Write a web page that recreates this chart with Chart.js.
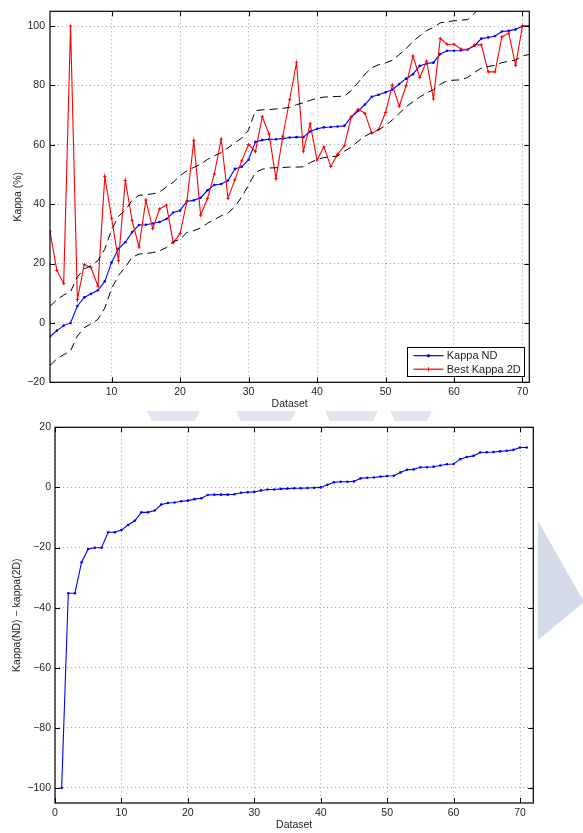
<!DOCTYPE html>
<html>
<head>
<meta charset="utf-8">
<script src="https://cdn.jsdelivr.net/npm/chart.js@4.4.0/dist/chart.umd.min.js"></script>
<style>
  html, body { margin: 0; padding: 0; background: #fff; }
  #page { position: relative; width: 583px; height: 833px; overflow: hidden; background: #fff; }
  #c1 { position: absolute; left: 0; top: 0; }
  #c2 { position: absolute; left: 0; top: 415px; }
  #ornament { position: absolute; left: 0; top: 0; pointer-events: none; }
</style>
</head>
<body>
<div id="page">
  <canvas id="c1" width="583" height="415"></canvas>
  <canvas id="c2" width="583" height="418"></canvas>
  <svg id="ornament" width="583" height="833" viewBox="0 0 583 833">
    <g fill="#e2e5ef">
      <polygon points="147,411 200,411 195,421 152,421"/>
      <polygon points="236,411 296,411 291,421 241,421"/>
      <polygon points="325,411 378,411 373,421 330,421"/>
      <polygon points="390,411 432,411 427,421 395,421"/>
    </g>
    <polygon fill="#d5dae8" points="538,521 583,600 583,603 538,640"/>
  </svg>
</div>
<script>
// Kappa per dataset (%), datasets ordered by Kappa ND
const kappaND = [
  -4.6, -2.6, -0.9, 0.0, 5.7, 8.6, 9.8, 11.0, 14.0, 20.4,
  25.0, 27.2, 30.6, 33.0, 33.1, 33.5, 34.0, 35.0, 37.2, 37.9,
  41.0, 41.3, 42.2, 44.7, 46.5, 46.8, 48.0, 51.9, 52.6, 55.0,
  61.0, 61.6, 61.9, 61.9, 62.1, 62.5, 62.6, 62.6, 64.5, 65.4,
  65.9, 66.0, 66.2, 66.4, 69.4, 71.4, 73.6, 76.2, 76.9, 77.7,
  78.6, 80.5, 82.3, 83.8, 86.6, 87.4, 87.7, 90.6, 91.7, 91.7,
  91.8, 92.1, 93.4, 95.8, 96.2, 96.7, 98.2, 98.4, 98.9, 100.0,
  100.0
];
const bestKappa2D = [
  30.9, 17.7, 13.3, 100.0, 7.9, 19.7, 18.6, 12.4, 49.3, 35.3,
  21.0, 48.0, 34.5, 25.6, 41.4, 31.8, 38.4, 39.7, 27.0, 30.1,
  41.0, 61.4, 36.3, 41.9, 50.2, 61.9, 42.0, 48.2, 54.6, 60.1,
  57.7, 69.5, 63.6, 48.6, 62.9, 75.2, 87.7, 57.9, 67.1, 54.9,
  59.3, 52.7, 56.8, 59.7, 69.4, 72.0, 70.6, 63.9, 65.2, 70.9,
  80.2, 73.0, 79.9, 89.9, 82.7, 88.2, 75.5, 95.8, 93.9, 93.9,
  92.3, 92.1, 93.7, 93.7, 84.6, 84.6, 96.4, 97.6, 86.8, 100.0,
  100.0
];
// Confidence bounds around Kappa ND
const upperBound = [
  5.6, 7.8, 9.4, 10.5, 15.5, 18.2, 19.3, 21.0, 24.8, 31.4,
  35.9, 38.0, 41.4, 43.0, 43.2, 43.5, 44.1, 45.8, 47.4, 49.6,
  51.3, 52.4, 53.5, 55.1, 56.3, 57.4, 59.0, 60.7, 62.3, 65.0,
  71.5, 71.8, 71.9, 72.1, 72.3, 72.6, 73.5, 74.2, 75.0, 75.7,
  76.1, 76.2, 76.3, 76.4, 78.3, 81.0, 83.8, 86.0, 87.0, 87.6,
  88.5, 90.4, 92.4, 94.8, 96.7, 98.5, 99.6, 101.1, 101.5, 101.8,
  102.0, 102.2, 104.4, 106.5, 107.0, 107.5, 108.5, 108.8, 109.2, 110.5,
  110.5
];
const lowerBound = [
  -14.3, -12.1, -10.7, -9.4, -4.4, -1.6, -0.3, 1.2, 5.0, 11.6,
  16.0, 18.8, 22.1, 23.2, 23.4, 23.7, 24.3, 25.4, 27.4, 28.2,
  30.5, 31.1, 32.0, 33.6, 34.8, 36.1, 37.0, 39.2, 42.5, 46.4,
  50.7, 51.8, 52.2, 52.3, 52.4, 52.5, 52.5, 52.6, 54.0, 55.1,
  55.7, 56.0, 56.2, 57.9, 59.2, 61.2, 62.9, 64.2, 65.1, 66.5,
  68.4, 70.6, 72.8, 74.5, 76.1, 77.5, 78.6, 80.4, 81.6, 81.8,
  81.9, 82.7, 84.4, 85.9, 86.4, 86.8, 87.7, 88.2, 88.6, 89.9,
  90.5
];
// Kappa(ND) - kappa(2D), sorted ascending
const kappaDiffSorted = [
  -100.0, -35.2, -35.2, -24.9, -20.5, -20.1, -20.1, -14.9, -14.9, -14.2,
  -12.5, -11.1, -8.3, -8.3, -7.7, -5.7, -5.2, -5.0, -4.6, -4.4,
  -3.9, -3.6, -2.5, -2.4, -2.4, -2.4, -2.3, -1.8, -1.6, -1.5,
  -1.0, -0.7, -0.7, -0.5, -0.4, -0.3, -0.3, -0.2, -0.1, 0.0,
  0.9, 1.7, 1.9, 1.9, 2.0, 3.0, 3.2, 3.3, 3.6, 3.8,
  3.9, 5.0, 5.9, 6.0, 6.7, 6.7, 6.9, 7.3, 7.7, 7.8,
  9.4, 10.1, 10.5, 11.6, 11.7, 11.8, 12.0, 12.2, 12.5, 13.3,
  13.3
];
const topXTicks = [10, 20, 30, 40, 50, 60, 70];
const topYTicks = [-20, 0, 20, 40, 60, 80, 100];
const bottomXTicks = [0, 10, 20, 30, 40, 50, 60, 70];
const bottomYTicks = [-100, -80, -60, -40, -20, 0, 20];
const legendLabels = ['Kappa ND', 'Best Kappa 2D'];

const FONT = '"Liberation Sans", Arial, Helvetica, sans-serif';
const TEXT = '#1e1e1e';
const asPoints = arr => arr.map((v, i) => ({ x: i + 1, y: v }));

// Box around the axes with inward tick marks on all four sides
const boxAxes = {
  id: 'boxAxes',
  afterDatasetsDraw(chart) {
    const { ctx, chartArea: a, scales } = chart;
    const L = 5;
    ctx.save();
    ctx.strokeStyle = '#000';
    ctx.lineWidth = 1;
    ctx.beginPath();
    scales.x.ticks.forEach(t => {
      const px = Math.round(scales.x.getPixelForValue(t.value)) + 0.5;
      ctx.moveTo(px, a.bottom); ctx.lineTo(px, a.bottom - L);
      ctx.moveTo(px, a.top); ctx.lineTo(px, a.top + L);
    });
    scales.y.ticks.forEach(t => {
      const py = Math.round(scales.y.getPixelForValue(t.value)) + 0.5;
      ctx.moveTo(a.left, py); ctx.lineTo(a.left + L, py);
      ctx.moveTo(a.right, py); ctx.lineTo(a.right - L, py);
    });
    ctx.stroke();
    ctx.lineWidth = 1.2;
    ctx.strokeRect(a.left, a.top, a.right - a.left, a.bottom - a.top);
    ctx.restore();
  }
};

// Boxed legend in the lower right corner of the upper plot
const cornerLegend = {
  id: 'cornerLegend',
  afterDraw(chart, args, opts) {
    if (!opts.show) return;
    const { ctx } = chart;
    const x0 = 407.5, y0 = 347.5, w = 117, h = 29;
    ctx.save();
    ctx.fillStyle = '#fff';
    ctx.fillRect(x0, y0, w, h);
    ctx.strokeStyle = '#000';
    ctx.lineWidth = 1;
    ctx.strokeRect(x0, y0, w, h);
    const rows = [
      { color: '#0000ff', label: legendLabels[0], y: 355.7, marker: 'dot' },
      { color: '#ff0000', label: legendLabels[1], y: 369.2, marker: 'plus' }
    ];
    ctx.font = '11px ' + FONT;
    ctx.textBaseline = 'middle';
    ctx.textAlign = 'left';
    rows.forEach(r => {
      ctx.strokeStyle = r.color;
      ctx.lineWidth = 1.2;
      ctx.beginPath();
      ctx.moveTo(413.5, r.y); ctx.lineTo(443.5, r.y);
      ctx.stroke();
      const cx = 428.5;
      if (r.marker === 'dot') {
        ctx.fillStyle = r.color;
        ctx.beginPath(); ctx.arc(cx, r.y, 1.6, 0, Math.PI * 2); ctx.fill();
      } else {
        ctx.lineWidth = 1;
        ctx.beginPath();
        ctx.moveTo(cx, r.y - 2); ctx.lineTo(cx, r.y + 2);
        ctx.stroke();
      }
      ctx.fillStyle = TEXT;
      ctx.fillText(r.label, 446.7, r.y + 0.5);
    });
    ctx.restore();
  }
};

function axisCommon(tickList, pad) {
  return {
    type: 'linear',
    afterBuildTicks: s => { s.ticks = tickList.map(v => ({ value: v })); },
    grid: { color: '#8a8a8a', lineWidth: 0.8, drawTicks: false },
    border: { display: false, dash: [1, 3] },
    ticks: { color: TEXT, font: { family: FONT, size: 10.5 }, padding: pad, maxRotation: 0,
             callback: v => (v < 0 ? '\u2212' + Math.abs(v) : String(v)) }
  };
}

function makeChart(canvasId, datasets, cfg) {
  const xAxis = axisCommon(cfg.xTicks, cfg.xPad);
  Object.assign(xAxis, {
    position: 'bottom', min: cfg.xMin, max: cfg.xMax,
    afterFit: s => { s.height = cfg.xAxisH; },
    title: { display: true, text: 'Dataset', color: TEXT, font: { family: FONT, size: 10.5 },
             padding: { top: 0, bottom: cfg.xTitlePad } }
  });
  const yAxis = axisCommon(cfg.yTicks, cfg.yPad);
  Object.assign(yAxis, {
    position: 'left', min: cfg.yMin, max: cfg.yMax,
    afterFit: s => { s.width = cfg.yAxisW; },
    title: { display: true, text: cfg.yTitle, color: TEXT, font: { family: FONT, size: 10.5 },
             padding: { top: cfg.yTitlePad, bottom: 0 } }
  });
  return new Chart(document.getElementById(canvasId), {
    type: 'line',
    data: { datasets },
    options: {
      responsive: false,
      animation: false,
      events: [],
      layout: { padding: cfg.padding },
      scales: { x: xAxis, y: yAxis },
      plugins: {
        legend: { display: false },
        tooltip: { enabled: false },
        cornerLegend: { show: !!cfg.legend }
      },
      elements: { line: { tension: 0 } }
    },
    plugins: [boxAxes, cornerLegend]
  });
}

// Upper plot: Kappa ND, best 2D Kappa and confidence bounds
makeChart('c1', [
  { label: 'upper', data: asPoints(upperBound), borderColor: '#000', borderWidth: 1,
    borderDash: [8, 5], pointRadius: 0, fill: false },
  { label: 'lower', data: asPoints(lowerBound), borderColor: '#000', borderWidth: 1,
    borderDash: [8, 5], pointRadius: 0, fill: false },
  { label: legendLabels[1], data: asPoints(bestKappa2D), borderColor: '#ff0000', borderWidth: 1.1,
    pointStyle: 'cross', pointRadius: 1.6, pointBorderColor: '#ff0000', pointBorderWidth: 1, fill: false },
  { label: legendLabels[0], data: asPoints(kappaND), borderColor: '#0000ff', borderWidth: 1.1,
    pointStyle: 'circle', pointRadius: 1.3, pointBackgroundColor: '#0000ff', pointBorderWidth: 0, fill: false }
], {
  xTicks: topXTicks, yTicks: topYTicks, xMin: 1, xMax: 71, yMin: -20, yMax: 105,
  padding: { left: 0, top: 4, right: 53.7, bottom: 0 },
  xAxisH: 32.7, yAxisW: 50, xPad: 3.7, yPad: 5, xTitlePad: 4.4, yTitlePad: 11.7,
  yTitle: 'Kappa (%)', legend: true
});

// Lower plot: sorted differences between ND and 2D Kappa
makeChart('c2', [
  { label: 'diff', data: asPoints(kappaDiffSorted), borderColor: '#0000ff', borderWidth: 1.1,
    pointStyle: 'circle', pointRadius: 1.3, pointBackgroundColor: '#0000ff', pointBorderWidth: 0, fill: false }
], {
  xTicks: bottomXTicks, yTicks: bottomYTicks, xMin: 0, xMax: 72, yMin: -105, yMax: 20,
  padding: { left: 0, top: 12.3, right: 49.7, bottom: 0 },
  xAxisH: 30, yAxisW: 55, xPad: 3.4, yPad: 4, xTitlePad: 1.7, yTitlePad: 10.7,
  yTitle: 'Kappa(ND) \u2212 kappa(2D)', legend: false
});
</script>
</body>
</html>
